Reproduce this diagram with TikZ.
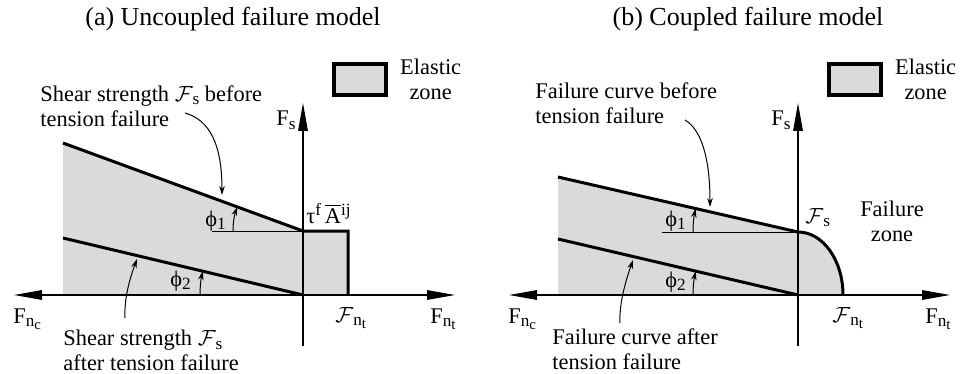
\documentclass[tikz,border=0pt]{standalone}
\usepackage{fontspec}
\setmainfont{Liberation Serif}
\usetikzlibrary{arrows.meta,positioning}
\definecolor{Zone}{HTML}{DADADA}
\newcommand{\sbs}[1]{\raisebox{-.35ex}{\fontsize{8.6}{9}\selectfont #1}}
\newcommand{\sbt}[1]{\raisebox{-.4ex}{\fontsize{7.4}{8}\selectfont #1}}
\newcommand{\spr}[1]{\raisebox{.75ex}{\fontsize{8.6}{9}\selectfont #1}}
\newcommand{\calF}{$\mathcal{F}$}

\begin{document}
\begin{tikzpicture}[x=.5pt,y=-.5pt,
  every node/.style={inner sep=0pt,font=\fontsize{11.2}{12.5}\selectfont},
  title/.style={anchor=base,font=\fontsize{13}{15}\selectfont},
  axis/.style={line width=.6pt,-{Triangle[length=14pt,width=4.8pt]}},
  axes/.style={line width=.6pt,{Triangle[length=14pt,width=4.8pt]}-{Triangle[length=14pt,width=4.8pt]}},
  bound/.style={line width=1.5pt},
  guide/.style={line width=.5pt},
  pointer/.style={line width=.5pt,-{Stealth[length=4.5pt,width=2.8pt]}},
  keybox/.style={draw,line width=1.8pt,fill=Zone,minimum width=26pt,minimum height=15.5pt},
  note/.style={align=left,anchor=north west},
  tag/.style={anchor=base west}]
\useasboundingbox (0,0) rectangle (963,374);

% (a) uncoupled model
\node[title] (titleA) at (233,26) {(a) Uncoupled failure model};
\coordinate (oA) at (303,295);
\coordinate (ncA) at (14,295);
\coordinate (ntA) at (455,295);
\coordinate (topA) at (303,103);
\coordinate (botA) at (303,346);
\coordinate (pA) at (63,143);
\coordinate (qA) at (303,231);
\coordinate (rA) at (63,238);
\coordinate (cA) at (348,231);
\coordinate (dA) at (348,295);
\coordinate (eA) at (63,295);
\fill[Zone] (pA) -- (qA) -- (cA) -- (dA) -- (eA) -- cycle;
\draw[axes] (ncA) -- (ntA);
\draw[axis] (botA) -- (topA);
\draw[guide] (212,231) -- (qA);
\draw[bound] (pA) -- (qA) -- (cA) -- (dA);
\draw[bound] (rA) -- (oA);
\draw[pointer] (233,231) arc[start angle=180,end angle=200.1,radius=70];
\draw[pointer] (200,295) arc[start angle=180,end angle=193.4,radius=103];
\node[tag] (phiA1) at (205,226) {ϕ\sbs{1}};
\node[tag] (phiA2) at (170,286) {ϕ\sbs{2}};
\node[tag] (tauA) at (306,223) {τ\spr{f}\,$\overline{\mbox{A}}$\spr{ij}};
\node[anchor=base east] (fsA) at (296,126) {F\sbs{s}};
\node[tag] (fncA) at (13,323) {F\sbs{n\sbt{c}}};
\node[tag] (fntA) at (335,322) {\calF\sbs{n\sbt{t}}};
\node[tag] (fnA) at (430,323) {F\sbs{n\sbt{t}}};
\node[note] (beforeA) at (40,85) {Shear strength \calF\sbs{s} before\\tension failure};
\node[note] (afterA) at (63,330) {Shear strength \calF\sbs{s}\\after tension failure};
\coordinate (fromA1) at (185,113);
\coordinate (toA1) at (222,195);
\coordinate (fromA2) at (125,318);
\coordinate (toA2) at (137,259);
\draw[pointer] (fromA1) .. controls (210,120) and (222,145) .. (toA1);
\draw[pointer] (fromA2) .. controls (124,298) and (130,278) .. (toA2);
\node[keybox] (keyA) at (360,79.5) {};
\node[align=center,right=6pt of keyA] (elasA) {Elastic\\zone};

% (b) coupled model
\node[title] (titleB) at (748,26) {(b) Coupled failure model};
\coordinate (oB) at (798,295);
\coordinate (ncB) at (509,295);
\coordinate (ntB) at (950,295);
\coordinate (topB) at (798,103);
\coordinate (botB) at (798,346);
\coordinate (pB) at (558,177);
\coordinate (qB) at (798,232);
\coordinate (rB) at (558,239);
\coordinate (dB) at (843,295);
\coordinate (eB) at (558,295);
\fill[Zone] (pB) -- (qB) arc[start angle=-90,end angle=0,x radius=45,y radius=63] -- (eB) -- cycle;
\draw[axes] (ncB) -- (ntB);
\draw[axis] (botB) -- (topB);
\draw[guide] (662,232) -- (qB);
\draw[bound] (pB) -- (qB) arc[start angle=-90,end angle=0,x radius=45,y radius=63];
\draw[bound] (rB) -- (oB);
\draw[pointer] (693,232) arc[start angle=180,end angle=192.9,radius=105];
\draw[pointer] (693,295) arc[start angle=180,end angle=193.1,radius=105];
\node[tag] (phiB1) at (665,226) {ϕ\sbs{1}};
\node[tag] (phiB2) at (665,287) {ϕ\sbs{2}};
\node[tag] (fsB) at (805,223) {\calF\sbs{s}};
\node[align=center] (failB) at (892,221) {Failure\\zone};
\node[anchor=base east] (fsaxB) at (791,126) {F\sbs{s}};
\node[tag] (fncB) at (508,323) {F\sbs{n\sbt{c}}};
\node[tag] (fntB) at (832,322) {\calF\sbs{n\sbt{t}}};
\node[tag] (fnB) at (925,323) {F\sbs{n\sbt{t}}};
\node[note] (beforeB) at (535,82) {Failure curve before\\tension failure};
\node[note] (afterB) at (552,328) {Failure curve after\\tension failure};
\coordinate (fromB1) at (685,120);
\coordinate (toB1) at (710,207);
\coordinate (fromB2) at (620,323);
\coordinate (toB2) at (633,260);
\draw[pointer] (fromB1) .. controls (702,130) and (710,160) .. (toB1);
\draw[pointer] (fromB2) .. controls (619,303) and (626,280) .. (toB2);
\node[keybox] (keyB) at (855,79.5) {};
\node[align=center,right=6pt of keyB] (elasB) {Elastic\\zone};
\end{tikzpicture}
\end{document}
